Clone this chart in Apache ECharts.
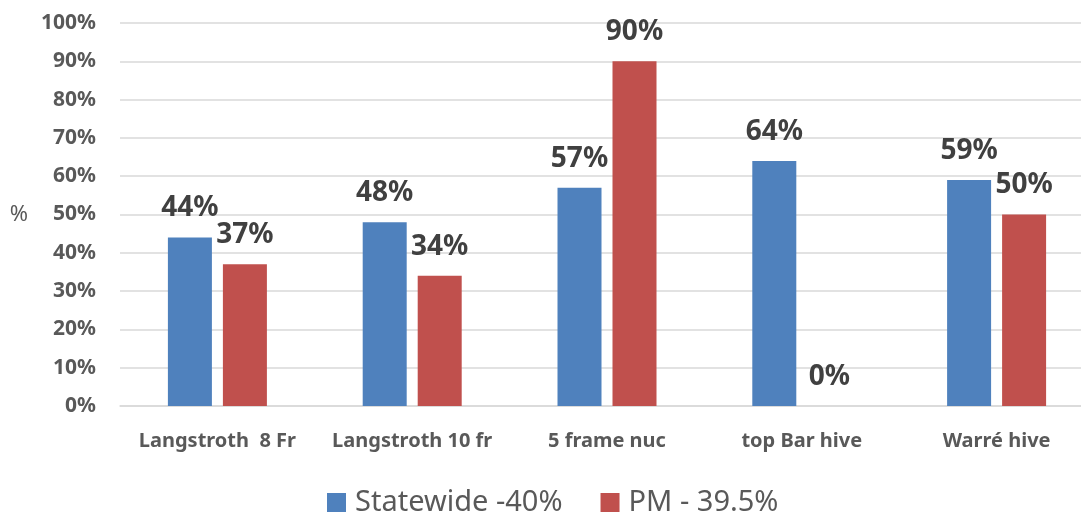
<!DOCTYPE html>
<html><head><meta charset="utf-8">
<script src="https://cdn.jsdelivr.net/npm/echarts@6/dist/echarts.min.js"></script>
<style>html,body{margin:0;padding:0;background:#fff}#c{width:1081px;height:514px}</style>
</head><body><div id="c"></div>
<script>
const categories = ['Langstroth  8 Fr', 'Langstroth 10 fr', '5 frame nuc', 'top Bar hive', 'Warré hive'];
const statewide = [44, 48, 57, 64, 59];
const pm = [37, 34, 90, 0, 50];
const seriesNames = ['Statewide -40%', 'PM - 39.5%'];
const yTicks = [0, 10, 20, 30, 40, 50, 60, 70, 80, 90, 100];

const chart = echarts.init(document.getElementById('c'));
const font = 'Noto Sans';
const labelCfg = {
  show: true, position: 'top', distance: 15,
  formatter: p => p.value + '%',
  fontFamily: font, fontWeight: 'bold', fontSize: 28, color: '#404040'
};
chart.setOption({
  animation: false,
  textStyle: { fontFamily: font },
  grid: { left: 120, width: 974, top: 23, bottom: 108, outerBoundsMode: 'none', containLabel: false },
  legend: {
    top: 488, left: 327, padding: 0, itemWidth: 19, itemHeight: 19, itemGap: 38,
    icon: 'rect',
    textStyle: { fontFamily: font, fontSize: 29, color: '#595959', padding: [0, 0, 0, 4] },
    data: seriesNames
  },
  xAxis: {
    type: 'category', data: categories,
    axisLine: { show: true, lineStyle: { color: '#d9d9d9', width: 1.5 } },
    axisTick: { show: false },
    axisLabel: { fontFamily: font, fontWeight: 'bold', fontSize: 20, color: '#595959', margin: 25, interval: 0 }
  },
  yAxis: {
    type: 'value', min: yTicks[0], max: yTicks[yTicks.length - 1], interval: 10,
    name: '%', nameLocation: 'middle', nameRotate: 0, nameGap: 92,
    nameTextStyle: { fontFamily: font, fontSize: 22, color: '#595959' },
    axisLine: { show: false }, axisTick: { show: false },
    axisLabel: { formatter: v => v + '%', fontFamily: font, fontWeight: 'bold', fontSize: 21, color: '#595959', margin: 24 },
    splitLine: { lineStyle: { color: '#d9d9d9', width: 1.5 } }
  },
  series: [
    { name: seriesNames[0], type: 'bar', data: statewide, barWidth: 44, barGap: '25%',
      itemStyle: { color: '#4f81bd' }, label: labelCfg },
    { name: seriesNames[1], type: 'bar', data: pm, barWidth: 44,
      itemStyle: { color: '#c0504d' }, label: labelCfg }
  ]
});
</script></body></html>
